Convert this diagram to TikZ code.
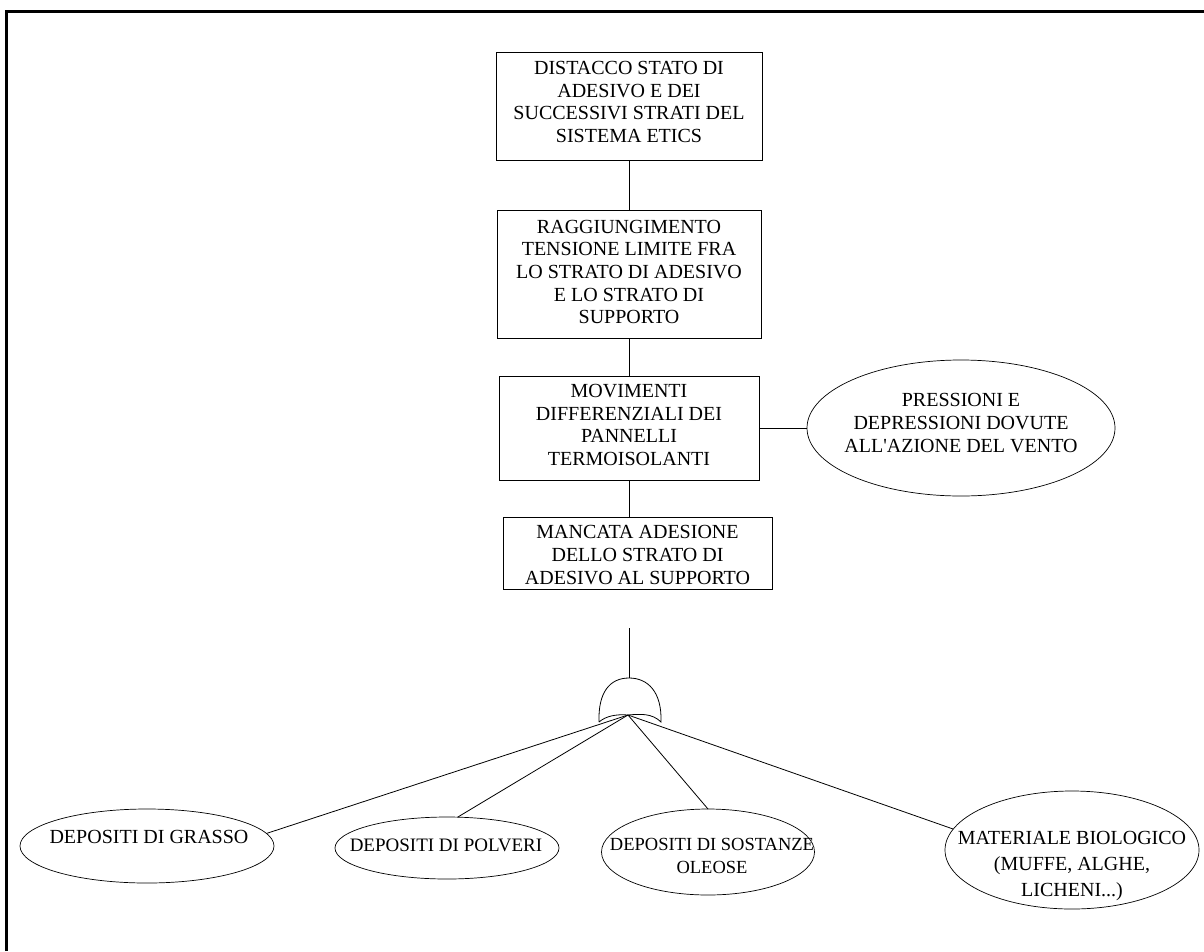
\documentclass[tikz,border=0pt]{standalone}
\usepackage{fontspec}
\setmainfont{Liberation Serif}
\usetikzlibrary{shapes.geometric}
\begin{document}
\begin{tikzpicture}[x=1pt,y=-1pt,
  every node/.style={font=\fontsize{20}{22.7}\selectfont, align=center, inner sep=0pt, outer sep=0pt},
  boxnode/.style={draw, line width=0.8pt, rectangle},
  ellnode/.style={draw, line width=0.7pt, ellipse},
  conn/.style={line width=0.8pt},
  frameline/.style={line width=3pt}]
\useasboundingbox (0,0) rectangle (1204,951);
% frame (top and left only)
\coordinate (fa) at (6,951);
\coordinate (fb) at (6,11);
\coordinate (fc) at (1204,11);
\draw[frameline] (fa) -- (fb) -- (fc);

% boxes
\node[boxnode, minimum width=266, minimum height=108] (b1) at (629,106) {};
\node (b1t) at (629,102) {DISTACCO STATO DI\\ADESIVO E DEI\\SUCCESSIVI STRATI DEL\\SISTEMA ETICS};
\node[boxnode, minimum width=264, minimum height=128] (b2) at (629,274) {};
\node (b2t) at (629,272) {RAGGIUNGIMENTO\\TENSIONE LIMITE FRA\\LO STRATO DI ADESIVO\\E LO STRATO DI\\SUPPORTO};
\node[boxnode, minimum width=260, minimum height=104] (b3) at (629,428) {};
\node (b3t) at (629,425) {MOVIMENTI\\DIFFERENZIALI DEI\\PANNELLI\\TERMOISOLANTI};
\node[boxnode, minimum width=269, minimum height=72] (b4) at (637.5,553) {};
\node (b4t) at (637.5,555) {MANCATA ADESIONE\\DELLO STRATO DI\\ADESIVO AL SUPPORTO};

% ellipses
\node[ellnode, minimum width=308, minimum height=136] (e0) at (961,428) {};
\node (e0t) at (961,423) {PRESSIONI E\\DEPRESSIONI DOVUTE\\ALL\textquotesingle AZIONE DEL VENTO};
\node[ellnode, minimum width=254, minimum height=74] (e1) at (147,846) {};
\node (e1t) at (149,837) {DEPOSITI DI GRASSO};
\node[ellnode, minimum width=224, minimum height=62] (e2) at (447,848) {};
\node[font=\fontsize{19}{22}\selectfont] (e2t) at (446,845) {DEPOSITI DI POLVERI};
\node[ellnode, minimum width=213, minimum height=86] (e3) at (708,852) {};
\node[font=\fontsize{18.5}{23}\selectfont] (e3t) at (712,856) {DEPOSITI DI SOSTANZE\\OLEOSE};
\node[ellnode, minimum width=254, minimum height=118] (e4) at (1072,850) {};
\node[font=\fontsize{20}{26}\selectfont] (e4t) at (1072,866) {MATERIALE BIOLOGICO\\(MUFFE, ALGHE,\\LICHENI...)};

% connectors
\draw[conn] (b1.south) -- (b2.north);
\draw[conn] (b2.south) -- (b3.north);
\draw[conn] (b3.south) -- (b3.south |- b4.north);
\draw[conn] (b3.east) -- (e0.west);

% gate
\coordinate (gtop) at (629,628);
\coordinate (gdome) at (629,678);
\coordinate (gl) at (599,722);
\coordinate (gr) at (661,722);
\coordinate (gapex) at (628,715);
\draw[conn] (gtop) -- (gdome);
\draw[conn] (gl) .. controls (598,692) and (610,678) .. (gdome)
  .. controls (648,678) and (662,692) .. (gr)
  .. controls (652,713) and (640,714) .. (gapex)
  .. controls (616,714) and (606,716) .. (gl);

\draw[conn] (gapex) -- (e1.6);
\draw[conn] (gapex) -- (e2.71);
\draw[conn] (gapex) -- (e3.north);
\draw[conn] (gapex) -- (e4.170);
\end{tikzpicture}
\end{document}
